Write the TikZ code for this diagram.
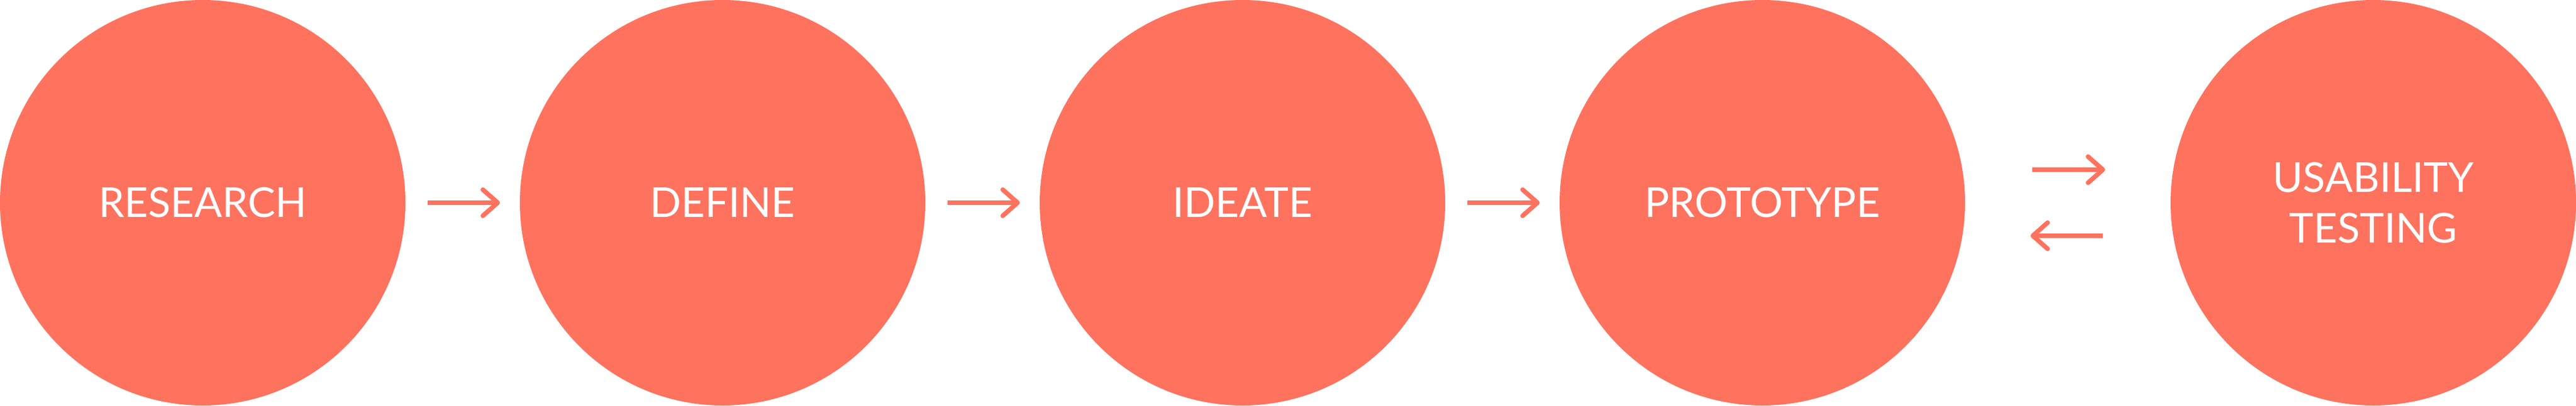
\documentclass[tikz,border=0pt]{standalone}
\usepackage{fontspec}
\setsansfont{Lato}
\usetikzlibrary{positioning, arrows.meta}
\definecolor{coral}{HTML}{FF725E}
\tikzset{
    node distance=2.01cm,    % gap between two phase circles
    font=\sffamily\fontsize{20.6pt}{25.3pt}\selectfont,
    every node/.style={
        align=center,
    },
    phase/.style={           % style for all phase circles
        circle,
        fill=coral,          % fill color
        text=white,
        inner sep=0pt,
        outer sep=0pt,
        minimum size=7.12cm
    },
    flow/.style={            % style for all arrows
        draw=coral,
        line width=0.8mm,
        -{Straight Barb[length=2.6mm, width=4.6mm, round]}
    }
}
\begin{document}
\begin{tikzpicture}
                \useasboundingbox (0,0) rectangle (45.24,7.12);
                \node[phase] (c1) at (3.56,3.56) {RESEARCH};
                \node[phase, right=of c1] (c2) {DEFINE};
                \node[phase, right=of c2] (c3) {IDEATE};
                \node[phase, right=of c3] (c4) {PROTOTYPE};
                \node[phase, right=3.61cm of c4] (c5) {USABILITY\\TESTING};
                \draw[flow, shorten <=3.9mm, shorten >=3.5mm] (c1) -- (c2);
                \draw[flow, shorten <=3.9mm, shorten >=3.5mm] (c2) -- (c3);
                \draw[flow, shorten <=3.9mm, shorten >=3.5mm] (c3) -- (c4);
                \draw[flow, shorten <=11.8mm, shorten >=11.5mm] ([yshift=5.8mm]c4.east) -- ([yshift=5.8mm]c5.west);
                \draw[flow, shorten <=11.9mm, shorten >=11.5mm] ([yshift=-5.8mm]c5.west) -- ([yshift=-5.8mm]c4.east);
            \end{tikzpicture}
\end{document}
